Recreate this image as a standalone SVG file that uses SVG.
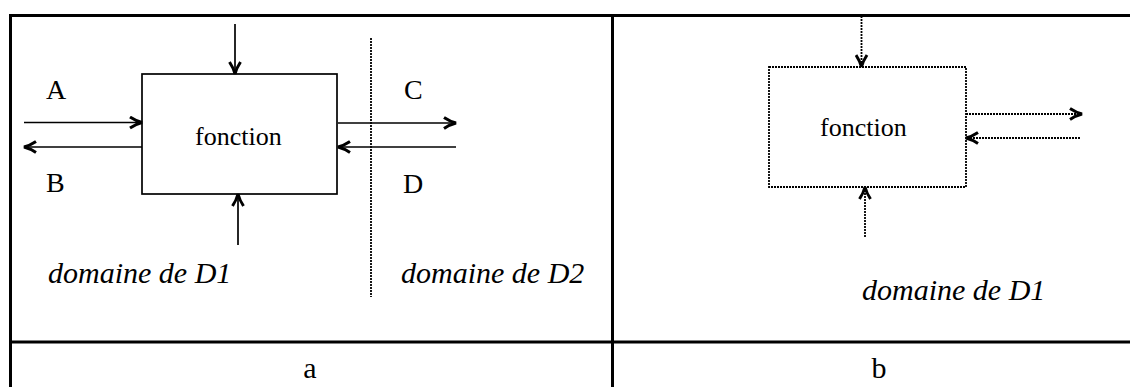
<svg xmlns="http://www.w3.org/2000/svg" width="1130" height="387" viewBox="0 0 1130 387">
<style>
.tbl{stroke:#000;stroke-width:3;fill:none}
.box{fill:none;stroke:#000;stroke-width:1.7}
.dbox{fill:none;stroke:#000;stroke-width:1.8;stroke-dasharray:2 1}
.ln{stroke:#000;stroke-width:1.7;fill:none}
.dln{stroke:#000;stroke-width:1.8;fill:none;stroke-dasharray:2 1}
text{fill:#000}
</style>
<defs>
<marker id="ah" viewBox="0 0 14 14" refX="13" refY="7" markerWidth="14" markerHeight="14" markerUnits="userSpaceOnUse" orient="auto">
<path d="M1,1.5 Q7,5.5 13,7 Q7,8.5 1,12.5" fill="none" stroke="#000" stroke-width="3" stroke-linejoin="miter"/>
</marker>
</defs>
<g id="table">
<line class="tbl" x1="9" y1="15.5" x2="1130" y2="15.5"/>
<line class="tbl" x1="10.5" y1="14" x2="10.5" y2="387"/>
<line class="tbl" x1="612.5" y1="14" x2="612.5" y2="387"/>
<line class="tbl" x1="9" y1="342" x2="1130" y2="342"/>
</g>
<g id="node-fonction-a">
<rect class="box" x="142" y="74" width="195" height="120"/>
<text x="195" y="145" font-family="'Times New Roman', 'Liberation Serif', serif" font-size="26">fonction</text>
</g>
<g id="node-fonction-b">
<rect class="dbox" x="769" y="67" width="197" height="120"/>
<text x="820" y="136" font-family="'Times New Roman', 'Liberation Serif', serif" font-size="26">fonction</text>
</g>
<g id="labels" font-family="'Times New Roman', 'Liberation Serif', serif">
<text x="46" y="99" font-size="28">A</text>
<text x="46" y="192" font-size="28">B</text>
<text x="404" y="99" font-size="28">C</text>
<text x="403" y="193" font-size="28">D</text>
<text x="48" y="283" font-size="30" font-style="italic">domaine de D1</text>
<text x="401" y="283" font-size="30" font-style="italic">domaine de D2</text>
<text x="862" y="300" font-size="30" font-style="italic">domaine de D1</text>
<text x="310" y="378" font-size="30" text-anchor="middle">a</text>
<text x="879" y="378" font-size="30" text-anchor="middle">b</text>
</g>
<g id="connectors">
<line class="ln" x1="235" y1="24" x2="235" y2="74" marker-end="url(#ah)"/>
<line class="ln" x1="238" y1="245" x2="238" y2="194" marker-end="url(#ah)"/>
<line class="ln" x1="24" y1="122.5" x2="142" y2="122.5" marker-end="url(#ah)"/>
<line class="ln" x1="142" y1="147" x2="24" y2="147" marker-end="url(#ah)"/>
<line class="ln" x1="338" y1="123" x2="456" y2="123" marker-end="url(#ah)"/>
<line class="ln" x1="456" y1="147" x2="338" y2="147" marker-end="url(#ah)"/>
<line class="dln" x1="371" y1="38" x2="371" y2="297"/>
<line class="dln" x1="861.5" y1="16" x2="861.5" y2="67" marker-end="url(#ah)"/>
<line class="dln" x1="865" y1="237" x2="865" y2="187" marker-end="url(#ah)"/>
<line class="dln" x1="966" y1="114" x2="1082" y2="114" marker-end="url(#ah)"/>
<line class="dln" x1="1080" y1="138" x2="966" y2="138" marker-end="url(#ah)"/>
</g>
</svg>
